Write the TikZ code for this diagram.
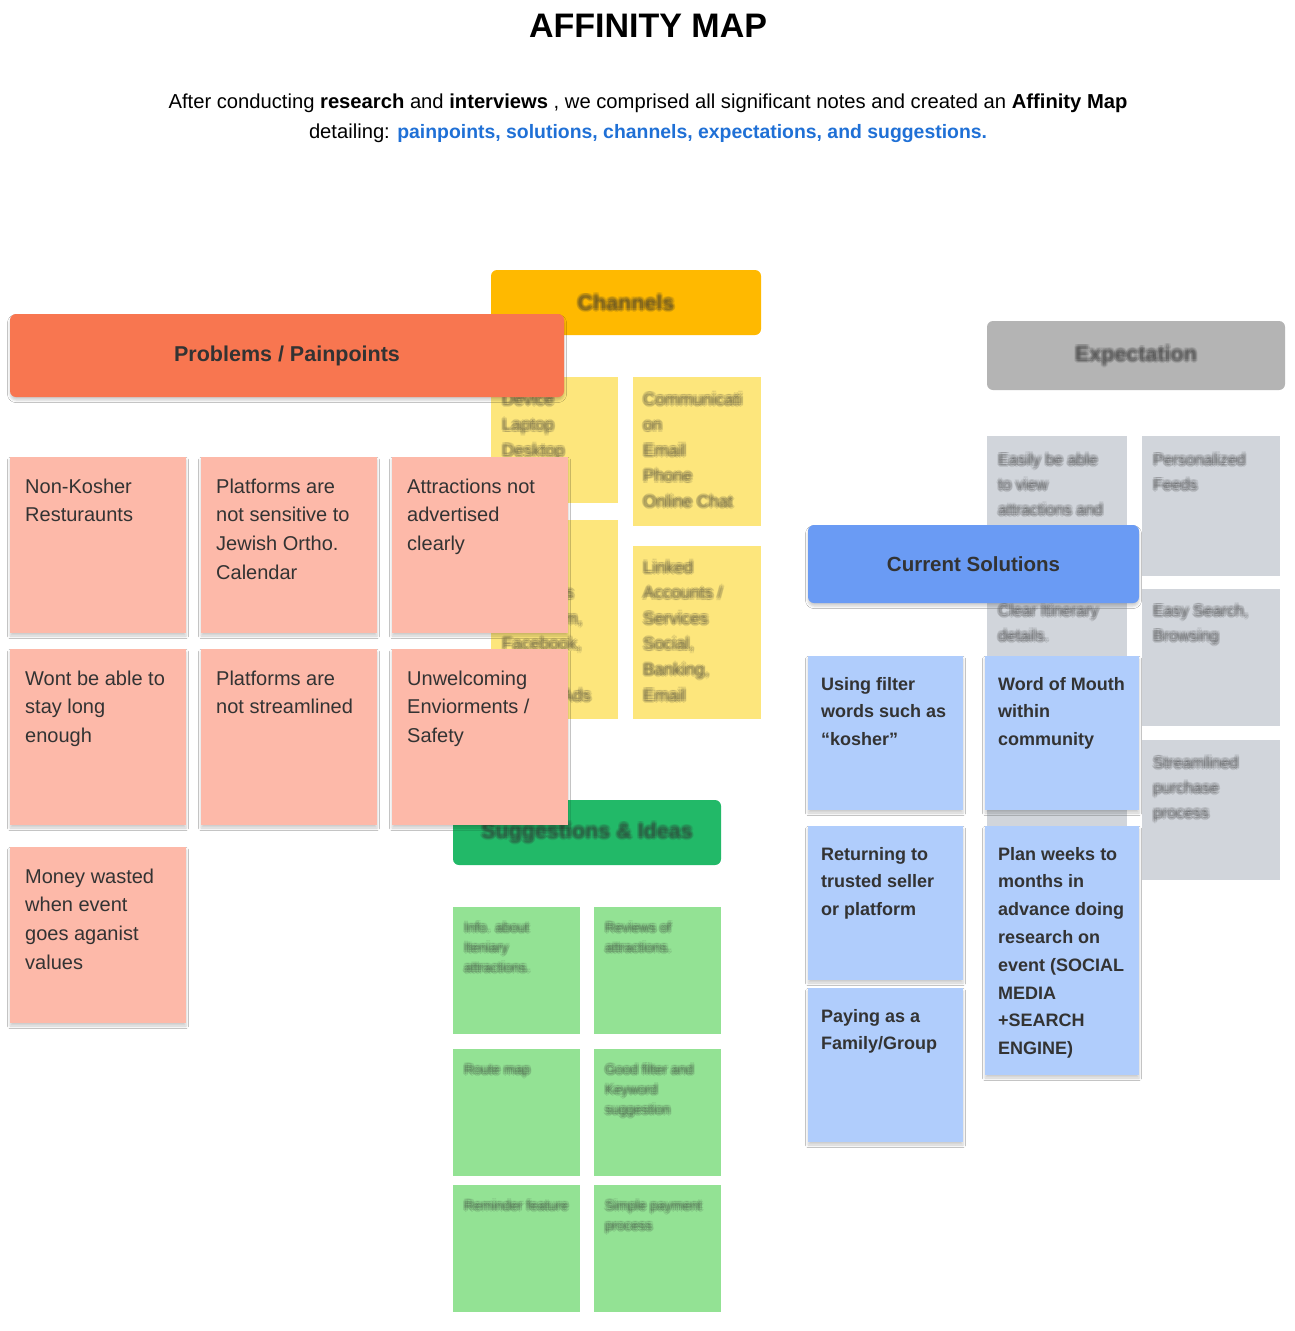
\documentclass[tikz,border=0pt]{standalone}
\usepackage{fontspec}
\setmainfont{Liberation Sans}
\usetikzlibrary{shadows.blur}

\definecolor{pinkhead}{HTML}{F87650}
\definecolor{pinkcard}{HTML}{FDB9A9}
\definecolor{yellowhead}{HTML}{FFB900}
\definecolor{yellowcard}{HTML}{FDE67C}
\definecolor{greyhead}{HTML}{B4B4B4}
\definecolor{greycard}{HTML}{D1D5DB}
\definecolor{bluehead}{HTML}{6A9BF4}
\definecolor{bluecard}{HTML}{B0CDFC}
\definecolor{greenhead}{HTML}{22B968}
\definecolor{greencard}{HTML}{93E294}
\definecolor{txt}{HTML}{333333}
\definecolor{linkblue}{HTML}{1F70D6}

\tikzset{
  card/.style={inner sep=0pt, outer sep=0pt, anchor=north west,
    blur shadow={shadow xshift=0pt, shadow yshift=-3pt, shadow blur radius=2.5pt, shadow opacity=20}},
  softcard/.style={inner sep=0pt, outer sep=0pt, anchor=north west},
  head/.style={card, rounded corners=6pt},
  softhead/.style={softcard, rounded corners=6pt},
  cardtext/.style={anchor=base west, inner sep=0pt, text=txt},
  pinkfont/.style={font=\fontsize{20}{28.7}\selectfont},
  bluefont/.style={font=\bfseries\fontsize{18}{27.8}\selectfont},
  yellowfont/.style={font=\fontsize{17}{25.6}\selectfont},
  greyfont/.style={font=\fontsize{16}{25}\selectfont},
  greenfont/.style={font=\fontsize{13.5}{20}\selectfont},
  headfont/.style={font=\bfseries\fontsize{21.5}{26}\selectfont},
}

% name, style, x, y, w, h
\newcommand\stickynote[6]{\node[#2, minimum width=#5pt, minimum height=#6pt] (#1) at (#3,#4) {};}
% name, card, dx, dy, font style, width, text
\newcommand\notetext[7]{\node[cardtext, #5] (#1) at ([xshift=#3pt, yshift=-#4pt]#2.north west) {\parbox[t]{#6pt}{\raggedright #7}};}
% blurred text: name, card, dx, dy, font style, width, text
\newcommand\fuzzytext[7]{%
  \foreach \ox/\oy in {-2/0, 2/0, 0/-2, 0/2, -1.4/-1.4, 1.4/1.4, -1.4/1.4, 1.4/-1.4}{
    \node[cardtext, #5, text opacity=0.12] at ([xshift=#3pt+\ox pt, yshift=-#4pt+\oy pt]#2.north west) {\parbox[t]{#6pt}{\raggedright #7}};
  }
  \node[cardtext, #5, text opacity=0.2] (#1) at ([xshift=#3pt, yshift=-#4pt]#2.north west) {\parbox[t]{#6pt}{\raggedright #7}};}
% blurred centered header text: name, header node, text
\newcommand\fuzzyhead[3]{%
  \foreach \ox/\oy in {-2/0, 2/0, 0/-2, 0/2, -1.4/-1.4, 1.4/1.4, -1.4/1.4, 1.4/-1.4}{
    \node[headfont, text=txt, text opacity=0.12, inner sep=0pt] at ([xshift=\ox pt, yshift=\oy pt]#2.center) {#3};
  }
  \node[headfont, text=txt, text opacity=0.22, inner sep=0pt] (#1) at (#2.center) {#3};}

\begin{document}
\begin{tikzpicture}[x=1pt, y=-1pt]
\useasboundingbox[fill=white] (0,0) rectangle (1294,1331);

% ---------- title ----------
\node[font=\bfseries\fontsize{34}{40}\selectfont, inner sep=0pt] (title) at (648,26) {AFFINITY MAP};
\node[font=\fontsize{20.2}{30}\selectfont, inner sep=0pt, align=center, text=black] (sub) at (648,118)
  {After conducting \textbf{research} and \textbf{interviews} , we comprised all significant notes and created an \textbf{Affinity Map}\\
   detailing: \textcolor{linkblue}{\fontsize{19.4}{30}\selectfont\textbf{painpoints, solutions, channels, expectations, and suggestions.}}};

% ---------- Channels (blurred) ----------
\stickynote{chh}{softhead, fill=yellowhead}{491}{270}{270}{65}
\fuzzyhead{chht}{chh}{Channels}
\stickynote{y11}{softcard, fill=yellowcard}{491}{377}{127}{126}
\stickynote{y12}{softcard, fill=yellowcard}{633}{377}{128}{149}
\stickynote{y21}{softcard, fill=yellowcard}{491}{520}{127}{199}
\stickynote{y22}{softcard, fill=yellowcard}{633}{546}{128}{173}
\fuzzytext{y11t}{y11}{11}{28}{yellowfont}{115}{Device\\Laptop\\Desktop}
\fuzzytext{y12t}{y12}{10}{28}{yellowfont}{118}{Communicati\\on\\Email\\Phone\\Online Chat}
\fuzzytext{y21t}{y21}{11}{53}{yellowfont}{115}{Social\\Platforms\\Instagram,\\Facebook,\\Tiktok,\\Google Ads}
\fuzzytext{y22t}{y22}{10}{27}{yellowfont}{118}{Linked\\Accounts /\\Services\\Social,\\Banking,\\Email}

% ---------- Expectation (blurred) ----------
\stickynote{exh}{softhead, fill=greyhead}{987}{321}{298}{69}
\fuzzyhead{exht}{exh}{Expectation}
\stickynote{g11}{softcard, fill=greycard}{987}{436}{140}{146}
\stickynote{g12}{softcard, fill=greycard}{1142}{436}{138}{140}
\stickynote{g21}{softcard, fill=greycard}{987}{588}{140}{140}
\stickynote{g22}{softcard, fill=greycard}{1142}{589}{138}{137}
\stickynote{g31}{softcard, fill=greycard}{987}{740}{140}{86}
\stickynote{g32}{softcard, fill=greycard}{1142}{740}{138}{140}
\fuzzytext{g11t}{g11}{11}{29}{greyfont}{128}{Easily be able\\to view\\attractions and}
\fuzzytext{g12t}{g12}{11}{29}{greyfont}{126}{Personalized\\Feeds}
\fuzzytext{g21t}{g21}{11}{28}{greyfont}{128}{Clear Itinerary\\details.}
\fuzzytext{g22t}{g22}{11}{27}{greyfont}{126}{Easy Search,\\Browsing}
\fuzzytext{g32t}{g32}{11}{28}{greyfont}{126}{Streamlined\\purchase\\process}

% ---------- Suggestions & Ideas (blurred) ----------
\stickynote{sgh}{softhead, fill=greenhead}{453}{800}{268}{65}
\fuzzyhead{sght}{sgh}{Suggestions \& Ideas}
\stickynote{gr11}{softcard, fill=greencard}{453}{907}{127}{127}
\stickynote{gr12}{softcard, fill=greencard}{594}{907}{127}{127}
\stickynote{gr21}{softcard, fill=greencard}{453}{1049}{127}{127}
\stickynote{gr22}{softcard, fill=greencard}{594}{1049}{127}{127}
\stickynote{gr31}{softcard, fill=greencard}{453}{1185}{127}{127}
\stickynote{gr32}{softcard, fill=greencard}{594}{1185}{127}{127}
\fuzzytext{gr11t}{gr11}{11}{25}{greenfont}{112}{Info. about\\Iteniary\\attractions.}
\fuzzytext{gr12t}{gr12}{11}{25}{greenfont}{112}{Reviews of\\attractions.}
\fuzzytext{gr21t}{gr21}{11}{25}{greenfont}{112}{Route map}
\fuzzytext{gr22t}{gr22}{11}{25}{greenfont}{112}{Good filter and\\Keyword\\suggestion}
\fuzzytext{gr31t}{gr31}{11}{25}{greenfont}{112}{Reminder feature}
\fuzzytext{gr32t}{gr32}{11}{25}{greenfont}{112}{Simple payment\\process}

% ---------- Problems / Painpoints ----------
\node[head, fill=pinkhead, minimum width=554pt, minimum height=83pt, headfont, text=txt] (prh) at (10,314) {Problems / Painpoints};
\stickynote{p11}{card, fill=pinkcard}{10}{457}{176}{176}
\stickynote{p12}{card, fill=pinkcard}{201}{457}{176}{176}
\stickynote{p13}{card, fill=pinkcard}{392}{457}{176}{176}
\stickynote{p21}{card, fill=pinkcard}{10}{649}{176}{176}
\stickynote{p22}{card, fill=pinkcard}{201}{649}{176}{176}
\stickynote{p23}{card, fill=pinkcard}{392}{649}{176}{176}
\stickynote{p31}{card, fill=pinkcard}{10}{847}{176}{176}
\notetext{p11t}{p11}{15}{36}{pinkfont}{160}{Non-Kosher\\Resturaunts}
\notetext{p12t}{p12}{15}{36}{pinkfont}{160}{Platforms are\\not sensitive to\\Jewish Ortho.\\Calendar}
\notetext{p13t}{p13}{15}{36}{pinkfont}{160}{Attractions not\\advertised\\clearly}
\notetext{p21t}{p21}{15}{36}{pinkfont}{160}{Wont be able to\\stay long\\enough}
\notetext{p22t}{p22}{15}{36}{pinkfont}{160}{Platforms are\\not streamlined}
\notetext{p23t}{p23}{15}{36}{pinkfont}{160}{Unwelcoming\\Enviorments /\\Safety}
\notetext{p31t}{p31}{15}{36}{pinkfont}{160}{Money wasted\\when event\\goes aganist\\values}

% ---------- Current Solutions ----------
\node[head, fill=bluehead, minimum width=331pt, minimum height=78pt, font=\bfseries\fontsize{20.5}{26}\selectfont, text=txt] (csh) at (808,525) {Current Solutions};
\stickynote{b11}{card, fill=bluecard}{808}{656}{155}{154}
\stickynote{b12}{card, fill=bluecard}{985}{656}{154}{154}
\stickynote{b21}{card, fill=bluecard}{808}{826}{155}{154}
\stickynote{b22}{card, fill=bluecard}{985}{826}{154}{249}
\stickynote{b31}{card, fill=bluecard}{808}{988}{155}{154}
\notetext{b11t}{b11}{13}{34}{bluefont}{140}{Using filter\\words such as\\“kosher”}
\notetext{b12t}{b12}{13}{34}{bluefont}{140}{Word of Mouth\\within\\community}
\notetext{b21t}{b21}{13}{34}{bluefont}{140}{Returning to\\trusted seller\\or platform}
\notetext{b22t}{b22}{13}{34}{bluefont}{140}{Plan weeks to\\months in\\advance doing\\research on\\event (SOCIAL\\MEDIA\\+SEARCH\\ENGINE)}
\notetext{b31t}{b31}{13}{34}{bluefont}{140}{Paying as a\\Family/Group}
\end{tikzpicture}
\end{document}
